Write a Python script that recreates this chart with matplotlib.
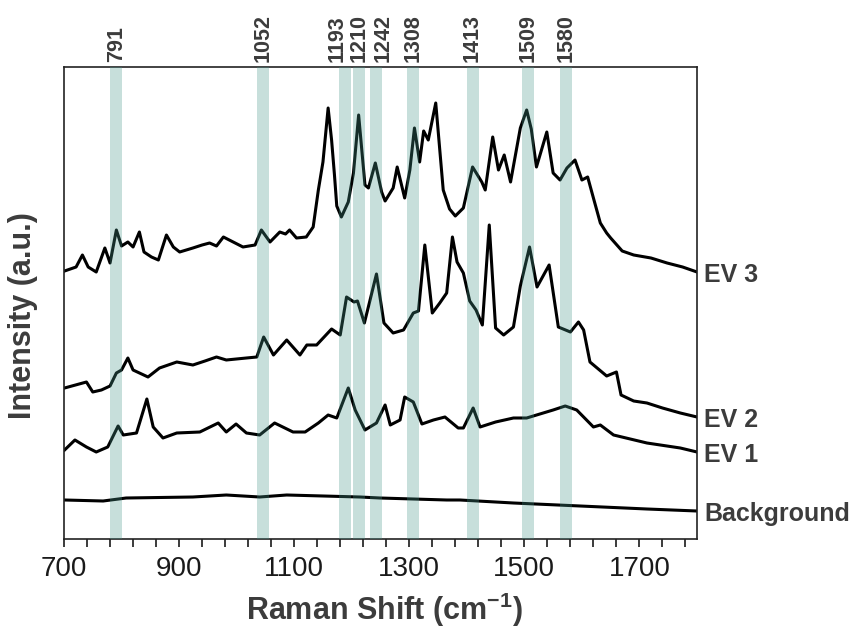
import matplotlib
matplotlib.use("Agg")
import matplotlib.pyplot as plt
from matplotlib import font_manager as fm
import numpy as np

# ---------------- data ----------------
ev3_x = [701, 711, 721, 732, 742, 756, 771, 780, 791, 800, 811, 820, 831, 839, 852, 864, 878, 890, 901,
         924, 940, 953, 965, 977, 994, 1011, 1032, 1043, 1058, 1075, 1085, 1092, 1104, 1121, 1133, 1142, 1150,
         1159, 1165, 1170, 1174, 1182, 1194, 1203, 1212, 1223, 1229, 1241, 1252, 1258, 1272, 1279,
         1292, 1301, 1309, 1318, 1325, 1333, 1346, 1359, 1370, 1380, 1394, 1410, 1426, 1432, 1445, 1455,
         1465, 1476, 1493, 1504, 1512, 1521, 1539, 1550, 1562, 1574, 1588, 1600, 1610, 1620, 1632, 1643,
         1650, 1670, 1690, 1720, 1748, 1775, 1800]
ev3_y = [268, 270, 272, 284, 272, 267, 291, 276, 309, 293, 297, 292, 307, 287, 282, 279, 304, 292, 287,
         291, 294, 296, 293, 302, 297, 292, 294, 309, 297, 307, 305, 309, 301, 302, 312, 349, 377,
         431, 399, 364, 333, 322, 337, 366, 424, 354, 351, 376, 347, 338, 351, 372,
         341, 369, 411, 377, 408, 399, 436, 349, 330, 323, 331, 372, 357, 349, 402, 369,
         384, 357, 411, 429, 410, 372, 407, 366, 359, 371, 379, 359, 362, 341, 316, 306,
         301, 288, 284, 281, 276, 272, 267]

ev2_x = [701, 720, 739, 750, 765, 780, 791, 800, 811, 820, 846, 866, 896, 924, 945, 965, 982, 1017, 1035,
         1047, 1064, 1087, 1110, 1122, 1139, 1165, 1180, 1191, 1204, 1210, 1222, 1243, 1256, 1272,
         1290, 1307, 1316, 1327, 1340, 1353, 1365, 1375, 1383, 1394, 1405, 1416, 1427, 1439, 1450,
         1464, 1481, 1493, 1509, 1522, 1543, 1559, 1580, 1594, 1603, 1614, 1643, 1660, 1668, 1690,
         1713, 1740, 1771, 1800]
ev2_y = [151, 154, 157, 147, 149, 153, 166, 169, 181, 169, 162, 171, 177, 174, 178, 182, 179, 181, 182,
         202, 184, 199, 184, 194, 194, 210, 204, 242, 237, 238, 216, 265, 216, 206,
         209, 226, 228, 294, 226, 236, 246, 302, 277, 266, 238, 229, 214, 314, 211,
         204, 212, 253, 292, 252, 274, 212, 207, 217, 209, 177, 163, 167, 144, 138,
         136, 131, 126, 122]

ev1_x = [701, 719, 739, 756, 776, 794, 803, 826, 844, 855, 872, 896, 936, 968, 982, 999, 1017, 1040,
         1066, 1098, 1119, 1142, 1159, 1174, 1194, 1206, 1223, 1243, 1258, 1267, 1284, 1292, 1307,
         1322, 1342, 1362, 1385, 1394, 1411, 1423, 1450, 1481, 1504, 1550, 1571, 1591, 1620, 1632,
         1655, 1713, 1771, 1800]
ev1_y = [89, 99, 92, 87, 92, 113, 104, 106, 140, 112, 101, 106, 107, 116, 107, 115, 106, 104,
         116, 107, 107, 116, 124, 121, 151, 129, 109, 116, 134, 114, 119, 142, 137,
         115, 119, 122, 111, 111, 131, 112, 117, 121, 121, 129, 133, 129, 112, 114,
         104, 96, 91, 87]

bg_x = [701, 768, 808, 924, 982, 1040, 1087, 1214, 1249, 1365, 1388, 1481, 1597, 1713, 1800]
bg_y = [39, 38, 41, 42, 44, 42, 44, 42, 41, 39, 39, 36, 33, 30, 28]

series_names = ["EV 3", "EV 2", "EV 1", "Background"]

peak_labels = ["791", "1052", "1193", "1210", "1242", "1308", "1413", "1509", "1580"]
band_centers = [791, 1046, 1189, 1213, 1242, 1307, 1410, 1507, 1573]

x_ticks = [700, 900, 1100, 1300, 1500, 1700]

# ---------------- fonts ----------------
names = {f.name for f in fm.fontManager.ttflist}
narrow = "Liberation Sans Narrow" if "Liberation Sans Narrow" in names else "Liberation Sans"
plt.rcParams["font.family"] = ["Liberation Sans", "DejaVu Sans"]
plt.rcParams["mathtext.fontset"] = "custom"
plt.rcParams["mathtext.rm"] = "Liberation Sans:bold"
plt.rcParams["mathtext.it"] = "Liberation Sans:bold"
plt.rcParams["mathtext.bf"] = "Liberation Sans:bold"

fig = plt.figure(figsize=(8.6, 6.37), dpi=100)
ax = fig.add_axes([64 / 860, 98 / 637, 633 / 860, 472 / 637])

line_kw = dict(color="black", lw=2.2, solid_joinstyle="round", zorder=2)
for xs, ys in [(ev3_x, ev3_y), (ev2_x, ev2_y), (ev1_x, ev1_y), (bg_x, bg_y)]:
    ax.plot(xs, ys, **line_kw)

half = 10.5
for c, lab, dx in zip(band_centers, peak_labels, [0, 0, -6, 0, 5.5, 0, 0, 0, 0]):
    ax.axvspan(c - half, c + half, color="#46968a", alpha=0.3, lw=0, zorder=3)
    ax.annotate(lab, xy=(c, 1), xycoords=("data", "axes fraction"),
                xytext=(dx, 3.5), textcoords="offset points", rotation=90,
                ha="center", va="bottom", fontsize=15.5, fontweight="bold",
                color="#3c3c3c")

ax.set_xlim(700, 1800)
ax.set_ylim(0, 472)
ax.set_yticks([])
ax.set_xticks(x_ticks)
ax.set_xticks(np.arange(700, 1801, 40), minor=True)
ax.tick_params(axis="x", which="both", direction="out", length=5.5, width=1.2,
               pad=7, labelsize=20, colors="#1a1a1a")
for lbl in ax.get_xticklabels():
    lbl.set_fontfamily(narrow)
for s in ax.spines.values():
    s.set_linewidth(1.2)
    s.set_color("#222222")

ends = [ev3_y[-1], ev2_y[-1], ev1_y[-1], bg_y[-1]]
for name, yv in zip(series_names, ends):
    ax.annotate(name, xy=(1800, yv), xycoords="data", xytext=(5, -2),
                textcoords="offset points", ha="left", va="center",
                fontsize=18, fontweight="bold", color="#3c3c3c",
                annotation_clip=False)

fig.text(0.5 * (64 + 697) / 860 + 0.005, 1 - 610 / 637, r"Raman Shift (cm$^{-1}$)",
         ha="center", va="center", fontsize=22, fontweight="bold", color="#3c3c3c")
fig.text(23 / 860, 1 - 316 / 637, "Intensity (a.u.)", rotation=90,
         ha="center", va="center", fontsize=22, fontweight="bold", color="#3c3c3c")

fig.savefig("out.png", dpi=100)
